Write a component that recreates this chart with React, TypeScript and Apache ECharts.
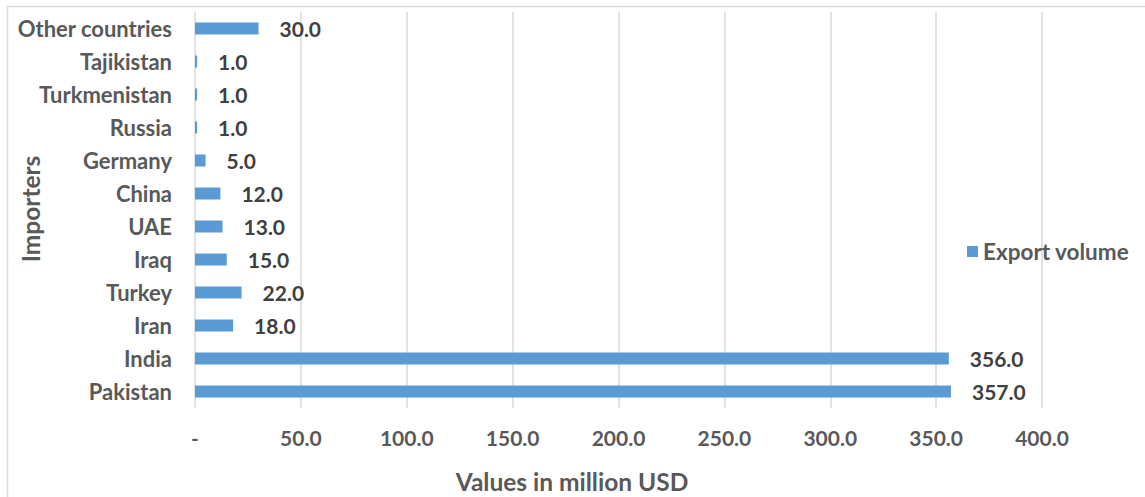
import React, { useEffect, useRef } from "react";
import * as echarts from "echarts";

// Importers, listed bottom to top as they appear on the category axis
const importers = [
  "Pakistan",
  "India",
  "Iran",
  "Turkey",
  "Iraq",
  "UAE",
  "China",
  "Germany",
  "Russia",
  "Turkmenistan",
  "Tajikistan",
  "Other countries",
];

// Export volume, million USD
const exportVolume = [357, 356, 18, 22, 15, 13, 12, 5, 1, 1, 1, 30];

const seriesName = "Export volume";
const xAxisTitle = "Values in million USD";
const yAxisTitle = "Importers";

const FONT = "Lato, 'Open Sans', sans-serif";
const LABEL_GREY = "#595959";
const VALUE_GREY = "#404040";
const BAR_BLUE = "#5b9bd5";
const GRID_GREY = "#d9d9d9";

export default function App() {
  const ref = useRef<HTMLDivElement>(null);

  useEffect(() => {
    if (!ref.current) return;
    const chart = echarts.init(ref.current, null, { renderer: "svg" });
    const titleStyle = {
      fontFamily: FONT,
      fontWeight: "bold",
      fontSize: 24.5,
      fill: LABEL_GREY,
      align: "center",
      verticalAlign: "middle",
    };
    chart.setOption({
      animation: false,
      backgroundColor: "#ffffff",
      textStyle: { fontFamily: FONT },
      graphic: [
        {
          type: "rect",
          shape: { x: 7.5, y: 6.5, width: 1300, height: 700 },
          style: { fill: "none", stroke: GRID_GREY, lineWidth: 1.5 },
          silent: true,
          z: -10,
        },
        {
          // vertical axis title
          type: "text",
          x: 30,
          y: 209,
          rotation: Math.PI / 2,
          silent: true,
          style: { ...titleStyle, text: yAxisTitle },
        },
        {
          // horizontal axis title
          type: "text",
          x: 572,
          y: 481,
          silent: true,
          style: { ...titleStyle, text: xAxisTitle },
        },
      ],
      grid: {
        left: 195,
        right: 103,
        top: 12,
        bottom: 89,
        outerBoundsMode: "none",
        containLabel: false,
      },
      legend: {
        data: [seriesName],
        left: 962,
        top: 235,
        itemWidth: 11,
        itemHeight: 11,
        itemGap: 9,
        icon: "rect",
        textStyle: {
          fontFamily: FONT,
          fontWeight: "bold",
          fontSize: 22.5,
          color: LABEL_GREY,
        },
      },
      xAxis: {
        type: "value",
        min: 0,
        max: 400,
        interval: 50,
        axisLine: { show: false },
        axisTick: { show: false },
        splitLine: { show: true, lineStyle: { color: GRID_GREY, width: 1.5 } },
        axisLabel: {
          margin: 19,
          fontFamily: FONT,
          fontWeight: "bold",
          fontSize: 21,
          color: LABEL_GREY,
          formatter: (v: number) => (v === 0 ? "-" : v.toFixed(1)),
        },
      },
      yAxis: {
        type: "category",
        data: importers,
        axisLine: { show: false },
        axisTick: { show: false },
        axisLabel: {
          margin: 23,
          fontFamily: FONT,
          fontWeight: "bold",
          fontSize: 22,
          color: LABEL_GREY,
        },
      },
      series: [
        {
          name: seriesName,
          type: "bar",
          data: exportVolume,
          barWidth: 12,
          itemStyle: { color: BAR_BLUE },
          label: {
            show: true,
            position: "right",
            distance: 21,
            fontFamily: FONT,
            fontWeight: "bold",
            fontSize: 21,
            color: VALUE_GREY,
            formatter: (p: any) => Number(p.value).toFixed(1),
          },
        },
      ],
    });
    return () => chart.dispose();
  }, []);

  return (
    <div
      ref={ref}
      style={{ position: "absolute", left: 0, top: 0, width: 1145, height: 497 }}
    />
  );
}
